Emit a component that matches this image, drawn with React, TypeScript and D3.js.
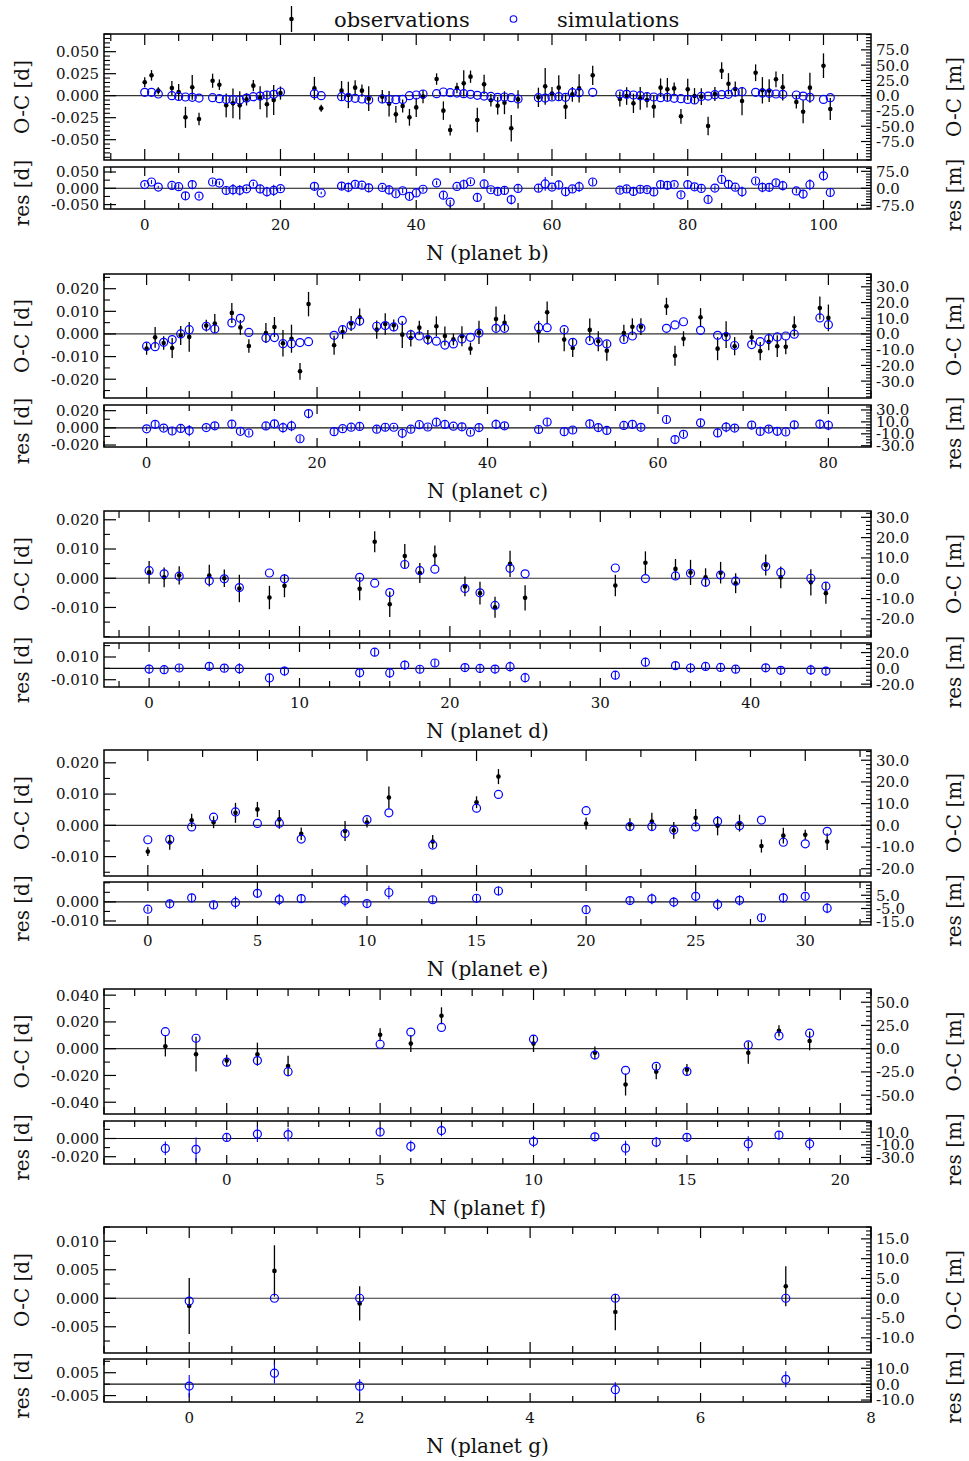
import React from "react";
import * as d3 from "d3";

// ---------------- data (O-C in days) ----------------
// planet b
const bN = [0, 1, 2, 4, 5, 6, 7, 8,
  10, 11, 12, 13, 14, 15, 16, 17, 18, 19, 20,
  25, 26,
  29, 30, 31, 32, 33,
  35, 36, 37, 38, 39, 40, 41,
  43, 44, 45, 46, 47, 48, 49, 50, 51, 52, 53, 54, 55,
  58, 59, 60, 61, 62, 63, 64,
  66,
  70, 71, 72, 73, 74, 75, 76, 77, 78, 79, 80, 81, 82, 83, 84, 85, 86, 87, 88,
  90, 91, 92, 93, 94,
  96, 97, 98,
  100, 101];
const bObs = [0.0152, 0.0231, 0.0057, 0.0087, 0.0042, -0.0246, 0.0095, -0.0265,
  0.0170, 0.0125, -0.0110, -0.0087, -0.0110, -0.0042, 0.0114, -0.0023, -0.0098, -0.0050, 0.0030,
  0.0083, -0.0144,
  0.0057, 0.0008, 0.0091, 0.0057, -0.0034,
  -0.0011, -0.0091, -0.0212, -0.0117, -0.0246, -0.0133, -0.0011,
  0.0189, -0.0170, -0.0390, 0.0087, 0.0140, 0.0216, -0.0277, 0.0129, -0.0052, -0.0115, -0.0080, -0.0370, -0.0042,
  -0.0019, 0.0106, 0.0023, 0.0091, -0.0125, 0.0015, 0.0083,
  0.0231,
  -0.0038, -0.0004, -0.0087, -0.0030, -0.0049, -0.0125, 0.0091, 0.0072, 0.0083, -0.0235, 0.0072, -0.0004, -0.0011, -0.0345, 0.0019, 0.0284, 0.0136, 0.0076, -0.0061,
  0.0261, 0.0061, 0.0057, 0.0186, 0.0095,
  -0.0072, -0.0182, 0.0091,
  0.0341, -0.0152];
const bErr = [0.0057, 0.0060, 0.0040, 0.0080, 0.0090, 0.0120, 0.0140, 0.0070,
  0.0080, 0.0060, 0.0135, 0.0170, 0.0160, 0.0070, 0.0065, 0.0130, 0.0150, 0.0170, 0.0075,
  0.0130, 0.0040,
  0.0110, 0.0150, 0.0085, 0.0070, 0.0140,
  0.0075, 0.0145, 0.0095, 0.0075, 0.0095, 0.0110, 0.0075,
  0.0065, 0.0105, 0.0063, 0.0060, 0.0150, 0.0070, 0.0140, 0.0110, 0.0070, 0.0100, 0.0130, 0.0150, 0.0105,
  0.0110, 0.0210, 0.0075, 0.0140, 0.0140, 0.0085, 0.0160,
  0.0110,
  0.0085, 0.0100, 0.0110, 0.0130, 0.0085, 0.0125, 0.0105, 0.0130, 0.0066, 0.0085, 0.0120, 0.0090, 0.0095, 0.0105, 0.0080, 0.0095, 0.0120, 0.0085, 0.0160,
  0.0095, 0.0150, 0.0130, 0.0090, 0.0150,
  0.0075, 0.0130, 0.0170,
  0.0140, 0.0125];
const bSim = [0.0038, 0.0038, 0.0019, 0.0000, -0.0008, -0.0015, -0.0019, -0.0027,
  -0.0023, -0.0034, -0.0042, -0.0045, -0.0049, -0.0027, -0.0011, -0.0004, 0.0008, 0.0015, 0.0042,
  0.0023, 0.0000,
  -0.0011, -0.0023, -0.0030, -0.0038, -0.0049,
  -0.0038, -0.0042, -0.0045, -0.0042, 0.0000, 0.0008, 0.0019,
  0.0023, 0.0042, 0.0034, 0.0030, 0.0023, 0.0015, 0.0004, -0.0004, -0.0008, -0.0019, -0.0015, -0.0023, -0.0038,
  -0.0023, -0.0027, -0.0015, -0.0011, -0.0019, 0.0034, 0.0034,
  0.0038,
  0.0019, 0.0015, 0.0008, 0.0000, -0.0011, -0.0015, -0.0023, -0.0019, -0.0030, -0.0034, -0.0042, -0.0049, -0.0008, -0.0004, 0.0011, 0.0011, 0.0015, 0.0042, 0.0045,
  0.0038, 0.0030, 0.0027, 0.0019, 0.0015,
  0.0008, -0.0004, -0.0019,
  -0.0042, -0.0023];

// planet c
const cN = [0, 1, 2, 3, 4, 5, 7, 8, 10, 11, 12, 14, 15, 16, 17, 18, 19,
  22, 23, 24, 25, 27, 28, 29, 30, 31, 32, 33, 34, 35, 36, 37, 38, 39,
  41, 42, 46, 47, 49, 50, 52, 53, 54, 56, 57, 58,
  61, 62, 63, 65, 67, 68, 69, 71, 72, 73, 74, 75, 76, 79, 80];
const cObs = [-0.0065, -0.0015, -0.0040, -0.0062, -0.0007, -0.0013, 0.0037, 0.0046, 0.0093, 0.0029, -0.0053, 0.0004, 0.0031, -0.0041, -0.0021, -0.0165, 0.0132,
  -0.0050, 0.0009, 0.0046, 0.0074, 0.0019, 0.0044, 0.0038, -0.0003, -0.0018, 0.0028, -0.0015, 0.0034, -0.0009, -0.0024, -0.0010, -0.0065, 0.0007,
  0.0066, 0.0049, 0.0010, 0.0096, -0.0025, -0.0062, 0.0018, -0.0032, -0.0074, 0.0004, 0.0032, 0.0032,
  0.0122, -0.0096, -0.0021, 0.0074, -0.0065, -0.0003, -0.0054, -0.0015, -0.0076, -0.0035, -0.0054, -0.0057, 0.0034, 0.0115, 0.0071];
const cErr = [0.0027, 0.0046, 0.0030, 0.0044, 0.0042, 0.0066, 0.0026, 0.0042, 0.0044, 0.0033, 0.0030, 0.0044, 0.0044, 0.0059, 0.0062, 0.0037, 0.0054,
  0.0042, 0.0030, 0.0033, 0.0038, 0.0040, 0.0048, 0.0026, 0.0059, 0.0037, 0.0030, 0.0033, 0.0044, 0.0042, 0.0026, 0.0044, 0.0027, 0.0051,
  0.0055, 0.0037, 0.0048, 0.0048, 0.0051, 0.0040, 0.0050, 0.0044, 0.0044, 0.0037, 0.0037, 0.0037,
  0.0038, 0.0044, 0.0033, 0.0040, 0.0051, 0.0059, 0.0040, 0.0033, 0.0040, 0.0037, 0.0048, 0.0033, 0.0044, 0.0051, 0.0059];
const cSim = [-0.0054, -0.0056, -0.0037, -0.0025, 0.0000, 0.0019, 0.0034, 0.0022, 0.0049, 0.0069, 0.0007, -0.0018, -0.0016, -0.0043, -0.0043, -0.0038, -0.0034,
  -0.0006, 0.0019, 0.0038, 0.0057, 0.0034, 0.0037, 0.0031, 0.0060, -0.0003, -0.0009, -0.0025, -0.0032, -0.0049, -0.0044, -0.0022, -0.0015, 0.0004,
  0.0025, 0.0025, 0.0029, 0.0028, 0.0019, -0.0037, -0.0029, -0.0035, -0.0044, -0.0024, -0.0009, 0.0026,
  0.0025, 0.0040, 0.0054, 0.0016, -0.0006, -0.0012, -0.0051, -0.0047, -0.0034, -0.0021, -0.0013, -0.0009, -0.0001, 0.0071, 0.0041];

// planet d
const dN = [0, 1, 2, 4, 5, 6, 8, 9, 14, 15, 16, 17, 18, 19, 21, 22, 23, 24, 25, 31, 33, 35, 36, 37, 38, 39, 41, 42, 44, 45];
const dObs = [0.0020, 0.0003, 0.0010, 0.0009, 0.0000, -0.0035, -0.0066, -0.0026, -0.0036, 0.0125, -0.0089, 0.0076, 0.0018, 0.0078, -0.0028, -0.0051, -0.0099, 0.0049, -0.0067, -0.0025, 0.0053, 0.0032, 0.0020, 0.0003, 0.0019, -0.0017, 0.0045, 0.0003, -0.0014, -0.0051];
const dErr = [0.0039, 0.0034, 0.0031, 0.0037, 0.0030, 0.0047, 0.0040, 0.0039, 0.0039, 0.0036, 0.0044, 0.0041, 0.0034, 0.0034, 0.0034, 0.0039, 0.0036, 0.0045, 0.0043, 0.0037, 0.0039, 0.0034, 0.0043, 0.0031, 0.0037, 0.0034, 0.0036, 0.0037, 0.0045, 0.0036];
const dSim = [0.0026, 0.0015, 0.0007, -0.0009, -0.0002, -0.0032, 0.0018, -0.0002, 0.0003, -0.0017, -0.0049, 0.0047, 0.0026, 0.0031, -0.0035, -0.0050, -0.0093, 0.0034, 0.0015, 0.0035, -0.0001, 0.0008, 0.0017, -0.0014, 0.0011, -0.0010, 0.0040, 0.0020, 0.0000, -0.0027];

// planet e
const eN = [0, 1, 2, 3, 4, 5, 6, 7, 9, 10, 11, 13, 15, 16, 20, 22, 23, 24, 25, 26, 27, 28, 29, 30, 31];
const eObs = [-0.0084, -0.0055, 0.0016, 0.0010, 0.0040, 0.0051, 0.0019, -0.0027, -0.0018, 0.0009, 0.0089, -0.0052, 0.0074, 0.0156, 0.0006, 0.0003, 0.0012, -0.0016, 0.0024, -0.0001, 0.0007, -0.0066, -0.0033, -0.0030, -0.0052];
const eErr = [0.0014, 0.0023, 0.0021, 0.0019, 0.0032, 0.0024, 0.0030, 0.0020, 0.0032, 0.0016, 0.0035, 0.0021, 0.0019, 0.0024, 0.0019, 0.0020, 0.0028, 0.0027, 0.0028, 0.0031, 0.0027, 0.0021, 0.0025, 0.0016, 0.0027];
const eSim = [-0.0046, -0.0045, -0.0005, 0.0026, 0.0043, 0.0006, 0.0007, -0.0044, -0.0026, 0.0018, 0.0040, -0.0063, 0.0055, 0.0099, 0.0047, -0.0004, -0.0004, -0.0015, -0.0005, 0.0013, -0.0001, 0.0017, -0.0054, -0.0059, -0.0019];

// planet f
const fN = [-2, -1, 0, 1, 2, 5, 6, 7, 10, 12, 13, 14, 15, 17, 18, 19];
const fObs = [0.0018, -0.0041, -0.0089, -0.0041, -0.0129, 0.0104, 0.0038, 0.0246, 0.0038, -0.0030, -0.0268, -0.0172, -0.0157, -0.0030, 0.0134, 0.0058];
const fErr = [0.0076, 0.0130, 0.0044, 0.0086, 0.0076, 0.0048, 0.0063, 0.0063, 0.0063, 0.0047, 0.0082, 0.0057, 0.0042, 0.0082, 0.0042, 0.0070];
const fSim = [0.0127, 0.0078, -0.0101, -0.0089, -0.0172, 0.0033, 0.0124, 0.0159, 0.0071, -0.0048, -0.0162, -0.0132, -0.0170, 0.0028, 0.0096, 0.0116];

// planet g
const gN = [0, 1, 2, 5, 7];
const gObs = [-0.00135, 0.0048, -0.0009, -0.0024, 0.0021];
const gErr = [0.0049, 0.0045, 0.0030, 0.0032, 0.0035];
const gSim = [-0.0005, 0.0000, 0.0000, 0.0000, 0.0000];

// ---------------- tick labels ----------------
const bLeft = [0.05, 0.025, 0, -0.025, -0.05];
const bRight = [75, 50, 25, 0, -25, -50, -75];
const bResLeft = [0.05, 0, -0.05];
const bResRight = [75, 0, -75];
const cLeft = [0.02, 0.01, 0, -0.01, -0.02];
const cRight = [30, 20, 10, 0, -10, -20, -30];
const cResLeft = [0.02, 0, -0.02];
const cResRight = [30, 10, -10, -30];
const dLeft = [0.02, 0.01, 0, -0.01];
const dRight = [30, 20, 10, 0, -10, -20];
const dResLeft = [0.01, -0.01];
const dResRight = [20, 0, -20];
const eLeft = [0.02, 0.01, 0, -0.01];
const eRight = [30, 20, 10, 0, -10, -20];
const eResLeft = [0, -0.01];
const eResRight = [5, -5, -15];
const fLeft = [0.04, 0.02, 0, -0.02, -0.04];
const fRight = [50, 25, 0, -25, -50];
const fResLeft = [0, -0.02];
const fResRight = [10, -10, -30];
const gLeft = [0.01, 0.005, 0, -0.005];
const gRight = [15, 10, 5, 0, -5, -10];
const gResLeft = [0.005, -0.005];
const gResRight = [10, 0, -10];

const MIN_PER_DAY = 1440;

const panels = [
  { title: "N (planet b)", N: bN, obs: bObs, err: bErr, sim: bSim,
    xDomain: [-6, 107], xLabelStep: 20, xMinor: 5,
    top: [34, 160], res: [167, 209],
    yDomain: [-0.0731, 0.0701], yLabels: bLeft, yMinor: 0.005, mLabels: bRight, mMinor: 5,
    rDomain: [-0.0635, 0.0653], rLabels: bResLeft, rMinor: 0.025, rmLabels: bResRight, rmMinor: 12.5 },
  { title: "N (planet c)", N: cN, obs: cObs, err: cErr, sim: cSim,
    xDomain: [-5, 85], xLabelStep: 20, xMinor: 5,
    top: [274, 398], res: [405, 447],
    yDomain: [-0.0283, 0.0265], yLabels: cLeft, yMinor: 0.005, mLabels: cRight, mMinor: 2,
    rDomain: [-0.0223, 0.0266], rLabels: cResLeft, rMinor: 0.01, rmLabels: cResRight, rmMinor: 5 },
  { title: "N (planet d)", N: dN, obs: dObs, err: dErr, sim: dSim,
    xDomain: [-3, 48], xLabelStep: 10, xMinor: 2,
    top: [511, 637], res: [643, 687],
    yDomain: [-0.0201, 0.0230], yLabels: dLeft, yMinor: 0.005, mLabels: dRight, mMinor: 2,
    rDomain: [-0.0164, 0.0223], rLabels: dResLeft, rMinor: 0.01, rmLabels: dResRight, rmMinor: 5 },
  { title: "N (planet e)", N: eN, obs: eObs, err: eErr, sim: eSim,
    xDomain: [-2, 33], xLabelStep: 5, xMinor: 2.5,
    top: [750, 876], res: [882, 925],
    yDomain: [-0.0162, 0.0241], yLabels: eLeft, yMinor: 0.005, mLabels: eRight, mMinor: 2,
    rDomain: [-0.0121, 0.0104], rLabels: eResLeft, rMinor: 0.005, rmLabels: eResRight, rmMinor: 2.5 },
  { title: "N (planet f)", N: fN, obs: fObs, err: fErr, sim: fSim,
    xDomain: [-4, 21], xLabelStep: 5, xMinor: 1,
    top: [989, 1114], res: [1121, 1164],
    yDomain: [-0.0488, 0.0446], yLabels: fLeft, yMinor: 0.01, mLabels: fRight, mMinor: 5,
    rDomain: [-0.0280, 0.0192], rLabels: fResLeft, rMinor: 0.01, rmLabels: fResRight, rmMinor: 5 },
  { title: "N (planet g)", N: gN, obs: gObs, err: gErr, sim: gSim,
    xDomain: [-1, 8], xLabelStep: 2, xMinor: 0.5,
    top: [1227, 1353], res: [1359, 1402],
    yDomain: [-0.0096, 0.0125], yLabels: gLeft, yMinor: 0.0025, mLabels: gRight, mMinor: 1,
    rDomain: [-0.0078, 0.0110], rLabels: gResLeft, rMinor: 0.005, rmLabels: gResRight, rmMinor: 2 },
];

// ---------------- layout / style ----------------
const W = 969, H = 1461;
const L = 104, R = 871;
const FONT = "'DejaVu Serif', serif";
const BLUE = "#0000ff";
const TICK_FS = 15;
const TITLE_FS = 20;

function stepValues(lo: number, hi: number, step: number): number[] {
  const a = Math.ceil(lo / step - 1e-9);
  const b = Math.floor(hi / step + 1e-9);
  return d3.range(a, b + 1).map((i) => +(i * step).toFixed(10));
}

function isIn(v: number, arr: number[]) {
  return arr.some((a) => Math.abs(a - v) < 1e-9);
}

function fmtD(v: number) {
  const s = v.toFixed(3);
  return s === "-0.000" ? "0.000" : s;
}
function fmtM(v: number) {
  const s = v.toFixed(1);
  return s === "-0.0" ? "0.0" : s;
}

function YTicks({ scale, side, labels, minor, fmt, majLen, minLen }: any) {
  const [lo, hi] = scale.domain();
  const x0 = side === "left" ? L : R;
  const dir = side === "left" ? 1 : -1;
  const minors = stepValues(Math.min(lo, hi), Math.max(lo, hi), minor).filter((v) => !isIn(v, labels));
  return (
    <g>
      {minors.map((v, i) => (
        <line key={"m" + i} x1={x0} x2={x0 + dir * minLen} y1={scale(v)} y2={scale(v)} stroke="#000" strokeWidth={1.1} />
      ))}
      {labels.map((v: number, i: number) => (
        <g key={"M" + i}>
          <line x1={x0} x2={x0 + dir * majLen} y1={scale(v)} y2={scale(v)} stroke="#000" strokeWidth={1.2} />
          <text x={side === "left" ? L - 5 : R + 5} y={scale(v)} dy="0.36em" fontSize={TICK_FS}
            textAnchor={side === "left" ? "end" : "start"} fontFamily={FONT} fill="#111">
            {fmt(v)}
          </text>
        </g>
      ))}
    </g>
  );
}

function XTicks({ x, p, y0, y1, majLen, minLen }: any) {
  const [lo, hi] = x.domain();
  const all = stepValues(lo, hi, p.xMinor);
  return (
    <g>
      {all.map((v, i) => {
        const major = Math.abs(v / p.xLabelStep - Math.round(v / p.xLabelStep)) < 1e-9;
        const len = major ? majLen : minLen;
        return (
          <g key={i}>
            <line x1={x(v)} x2={x(v)} y1={y0} y2={y0 + len} stroke="#000" strokeWidth={1.2} />
            <line x1={x(v)} x2={x(v)} y1={y1} y2={y1 - len} stroke="#000" strokeWidth={1.2} />
          </g>
        );
      })}
    </g>
  );
}

function Panel({ p }: any) {
  const x = d3.scaleLinear().domain(p.xDomain).range([L, R]);
  const y = d3.scaleLinear().domain(p.yDomain).range([p.top[1], p.top[0]]);
  const ym = d3.scaleLinear().domain([p.yDomain[0] * MIN_PER_DAY, p.yDomain[1] * MIN_PER_DAY]).range([p.top[1], p.top[0]]);
  const yr = d3.scaleLinear().domain(p.rDomain).range([p.res[1], p.res[0]]);
  const yrm = d3.scaleLinear().domain([p.rDomain[0] * MIN_PER_DAY, p.rDomain[1] * MIN_PER_DAY]).range([p.res[1], p.res[0]]);
  const resid = p.obs.map((o: number, i: number) => o - p.sim[i]);
  const xLabels = stepValues(p.xDomain[0], p.xDomain[1], p.xLabelStep);
  const topMid = (p.top[0] + p.top[1]) / 2;
  const resMid = (p.res[0] + p.res[1]) / 2;

  return (
    <g>
      {/* zero lines */}
      <line x1={L} x2={R} y1={y(0)} y2={y(0)} stroke="#333" strokeWidth={1.2} />
      <line x1={L} x2={R} y1={yr(0)} y2={yr(0)} stroke="#111" strokeWidth={1.1} />

      {/* ticks */}
      <XTicks x={x} p={p} y0={p.top[0]} y1={p.top[1]} majLen={11} minLen={7} />
      <XTicks x={x} p={p} y0={p.res[0]} y1={p.res[1]} majLen={9} minLen={6} />
      <YTicks scale={y} side="left" labels={p.yLabels} minor={p.yMinor} fmt={fmtD} majLen={12} minLen={6} />
      <YTicks scale={ym} side="right" labels={p.mLabels} minor={p.mMinor} fmt={fmtM} majLen={10} minLen={5} />
      <YTicks scale={yr} side="left" labels={p.rLabels} minor={p.rMinor} fmt={fmtD} majLen={12} minLen={6} />
      <YTicks scale={yrm} side="right" labels={p.rmLabels} minor={p.rmMinor} fmt={fmtM} majLen={10} minLen={5} />

      {/* observations */}
      {p.N.map((n: number, i: number) => (
        <g key={"o" + i}>
          <line x1={x(n)} x2={x(n)} y1={y(p.obs[i] - p.err[i])} y2={y(p.obs[i] + p.err[i])} stroke="#000" strokeWidth={1.3} />
          <circle cx={x(n)} cy={y(p.obs[i])} r={2.3} fill="#000" />
        </g>
      ))}
      {/* simulations */}
      {p.N.map((n: number, i: number) => (
        <circle key={"s" + i} cx={x(n)} cy={y(p.sim[i])} r={4} fill="none" stroke={BLUE} strokeWidth={1.2} />
      ))}
      {/* residuals */}
      {p.N.map((n: number, i: number) => (
        <g key={"r" + i}>
          <line x1={x(n)} x2={x(n)} y1={yr(resid[i] - p.err[i])} y2={yr(resid[i] + p.err[i])} stroke={BLUE} strokeWidth={1.1} />
          <circle cx={x(n)} cy={yr(resid[i])} r={4} fill="none" stroke={BLUE} strokeWidth={1.2} />
        </g>
      ))}

      {/* frames */}
      <rect x={L} y={p.top[0]} width={R - L} height={p.top[1] - p.top[0]} fill="none" stroke="#000" strokeWidth={1.5} />
      <rect x={L} y={p.res[0]} width={R - L} height={p.res[1] - p.res[0]} fill="none" stroke="#000" strokeWidth={1.5} />

      {/* x tick labels */}
      {xLabels.map((v, i) => (
        <text key={"xl" + i} x={x(v)} y={p.res[1] + 16} dy="0.36em" textAnchor="middle" fontSize={TICK_FS} fontFamily={FONT} fill="#111">
          {String(v)}
        </text>
      ))}
      <text x={(L + R) / 2} y={p.res[1] + 44} dy="0.36em" textAnchor="middle" fontSize={TITLE_FS} fontFamily={FONT} fill="#111">
        {p.title}
      </text>

      {/* axis titles */}
      <text transform={`translate(22,${topMid}) rotate(-90)`} dy="0.36em" textAnchor="middle" fontSize={TITLE_FS} fontFamily={FONT} fill="#111">O-C [d]</text>
      <text transform={`translate(22,${resMid + 5}) rotate(-90)`} dy="0.36em" textAnchor="middle" fontSize={TITLE_FS} fontFamily={FONT} fill="#111">res [d]</text>
      <text transform={`translate(954,${topMid}) rotate(-90)`} dy="0.36em" textAnchor="middle" fontSize={TITLE_FS} fontFamily={FONT} fill="#111">O-C [m]</text>
      <text transform={`translate(954,${resMid + 7}) rotate(-90)`} dy="0.36em" textAnchor="middle" fontSize={TITLE_FS} fontFamily={FONT} fill="#111">res [m]</text>
    </g>
  );
}

export default function App() {
  return (
    <svg width={W} height={H} viewBox={`0 0 ${W} ${H}`} style={{ position: "absolute", left: 0, top: 0, background: "#fff" }}>
      <rect x={0} y={0} width={W} height={H} fill="#fff" />
      {/* legend */}
      <g>
        <line x1={291.5} x2={291.5} y1={6} y2={32} stroke="#000" strokeWidth={1.3} />
        <circle cx={291.5} cy={19} r={2.3} fill="#000" />
        <text x={334} y={27} fontSize={21} fontFamily={FONT} fill="#111">observations</text>
        <circle cx={513.5} cy={19} r={3.3} fill="none" stroke={BLUE} strokeWidth={1.1} />
        <text x={557} y={27} fontSize={21} fontFamily={FONT} fill="#111">simulations</text>
      </g>
      {panels.map((p, i) => (
        <Panel key={i} p={p} />
      ))}
    </svg>
  );
}
